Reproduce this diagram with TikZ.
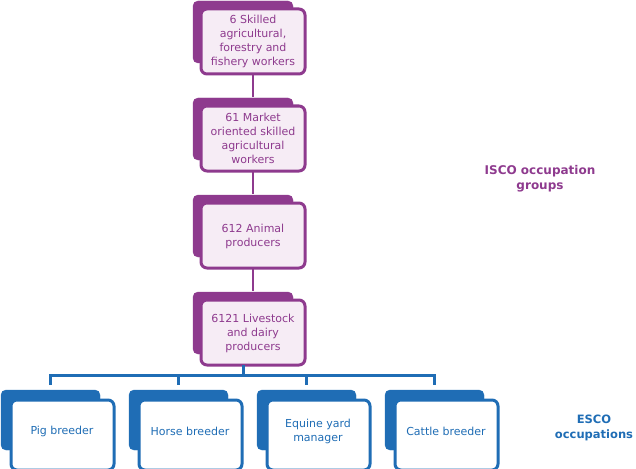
\documentclass[tikz,border=0pt]{standalone}
\usepackage{fontspec}
\setmainfont{DejaVu Sans}
\definecolor{pur}{HTML}{8E3A8E}
\definecolor{pfill}{HTML}{F6ECF5}
\definecolor{blu}{HTML}{1F6DB5}
\begin{document}
\begin{tikzpicture}[x=1pt,y=-1pt,
  pback/.style={fill=pur,draw=pur,rounded corners=5pt},
  pfront/.style={fill=pfill,draw=pur,line width=3pt,rounded corners=6pt},
  ptext/.style={text=pur,align=center,font=\fontsize{11}{14}\selectfont},
  bback/.style={fill=blu,draw=blu,rounded corners=5pt},
  bfront/.style={fill=white,draw=blu,line width=3pt,rounded corners=6pt},
  btext/.style={text=blu,align=center,font=\fontsize{11}{14}\selectfont},
  conn/.style={line width=3pt}]
\useasboundingbox (0,0) rectangle (636,468);
\foreach \i/\y in {1/0,2/97,3/194,4/291}{
  \fill[pback] (193,\y+1) rectangle (293,\y+63);
  \draw[pfront] (201,\y+9) rectangle (305,\y+74);
  \coordinate (p\i) at (253,\y+74);
}
\node[ptext] (t1) at (253,41) {6 Skilled\\agricultural,\\forestry and\\fishery workers};
\node[ptext] (t2) at (253,138) {61 Market\\oriented skilled\\agricultural\\workers};
\node[ptext] (t3) at (253,236) {612 Animal\\producers};
\node[ptext] (t4) at (253,333) {6121 Livestock\\and dairy\\producers};
\draw[pur,line width=2.5pt] (p1) -- (253,97) (p2) -- (253,194) (p3) -- (253,291);
\coordinate (bus) at (243,375);
\draw[blu,conn] (p4) ++(-10,0) -- (bus);
\draw[blu,conn] (50,385) |- (434,375) -- (434,385);
\foreach \x/\n/\t in {0/a/Pig breeder,128/b/Horse breeder,256/c/{Equine yard\\manager},384/d/Cattle breeder}{
  \fill[bback] (\x+1,390) rectangle (\x+100,450);
  \draw[bfront] (\x+11,400) rectangle (\x+114,470);
  \node[btext] (\n) at (\x+62,431) {\t};
}
\draw[blu,conn] (178,375) -- (178,385) (306,375) -- (306,385);
\node[text=pur,font=\bfseries\fontsize{12}{15}\selectfont,align=center] (isco) at (540,179) {ISCO occupation\\groups};
\node[text=blu,font=\bfseries\fontsize{11.5}{15}\selectfont,align=center,inner sep=1pt] (esco) at (594,428) {ESCO\\occupations};
\end{tikzpicture}
\end{document}
